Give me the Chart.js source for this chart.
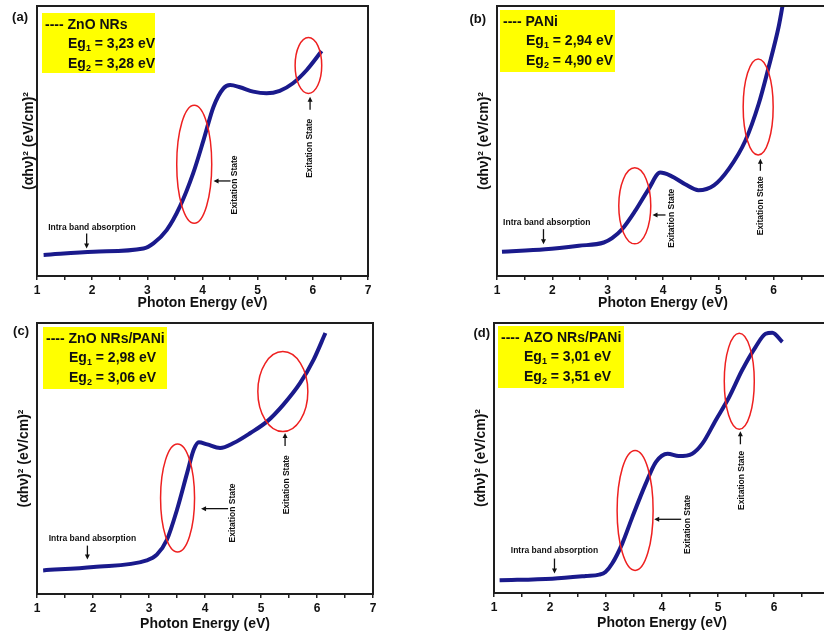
<!DOCTYPE html>
<html>
<head>
<meta charset="utf-8">
<script src="https://cdn.jsdelivr.net/npm/chart.js@4"></script>
<style>
  html, body { margin: 0; padding: 0; background: #fff; overflow: hidden; }
  #fig { position: relative; width: 824px; height: 635px; overflow: hidden; }
  #fig canvas { position: absolute; }
</style>
</head>
<body>
<div id="fig">
  <canvas id="pA" width="412" height="312" style="left:0;top:0"></canvas>
  <canvas id="pB" width="430" height="312" style="left:412px;top:0"></canvas>
  <canvas id="pC" width="412" height="323" style="left:0;top:312px"></canvas>
  <canvas id="pD" width="430" height="323" style="left:412px;top:312px"></canvas>
</div>
<script>
'use strict';

// ── Data (photon energy in eV, (αhν)² in arbitrary units) ───────────
const energyA = [1.12, 2.03, 2.93, 3.11, 3.35, 3.59, 3.83, 4.02, 4.20, 4.38, 4.50, 4.68, 4.92, 5.16, 5.40, 5.64, 5.89, 6.16];
const absA    = [7.8, 9.0, 10.2, 12.1, 17.0, 25.7, 38.0, 50.4, 62.7, 69.5, 70.7, 69.9, 68.3, 67.7, 68.6, 71.4, 76.3, 83.3];

const energyB = [1.09, 1.87, 2.48, 2.93, 3.08, 3.26, 3.50, 3.74, 3.95, 4.15, 4.40, 4.64, 4.92, 5.19, 5.49, 5.73, 5.91, 6.09, 6.16];
const absB    = [9.0, 9.9, 11.2, 12.4, 14.0, 17.3, 24.2, 32.2, 38.3, 37.0, 34.0, 31.8, 33.6, 39.7, 50.2, 63.8, 77.4, 92.3, 100];

const energyC = [1.11, 2.01, 2.96, 3.14, 3.32, 3.50, 3.68, 3.80, 3.89, 4.04, 4.27, 4.51, 4.81, 5.11, 5.40, 5.70, 5.94, 6.15];
const absC    = [8.7, 10.0, 12.4, 14.5, 20.0, 31.1, 44.6, 53.3, 56.0, 55.2, 53.9, 55.7, 59.4, 63.7, 69.9, 77.9, 86.5, 96.3];

const energyD = [1.10, 2.04, 2.64, 2.88, 2.99, 3.11, 3.29, 3.47, 3.71, 3.89, 4.10, 4.30, 4.54, 4.72, 4.96, 5.20, 5.43, 5.67, 5.85, 5.97, 6.15];
const absD    = [4.7, 5.3, 6.3, 6.8, 7.8, 10.9, 18.3, 28.1, 40.5, 48.5, 51.6, 50.7, 51.6, 55.3, 64.0, 72.6, 82.5, 91.1, 96.0, 96.4, 93.0];

const sampleNames = ['ZnO NRs', 'PANi', 'ZnO NRs/PANi', 'AZO NRs/PANi'];
const eg1Values   = ['3,23', '2,94', '2,98', '3,01'];
const eg2Values   = ['3,28', '4,90', '3,06', '3,51'];
const panelTags   = ['(a)', '(b)', '(c)', '(d)'];

const FONT = "'Liberation Sans', Arial, sans-serif";
const CURVE = '#1a1a8c';
const RED = '#ee2020';

// ── Annotation plugin: frame, legend box, ellipses, arrows ──────────
const notesPlugin = {
  id: 'notes',
  afterDatasetsDraw(chart, args, o) {
    const { ctx, chartArea: a, scales: { x, y } } = chart;
    const px = v => x.getPixelForValue(v);
    const py = v => y.getPixelForValue(v);
    ctx.save();

    // frame
    ctx.strokeStyle = '#1e1e1e';
    ctx.lineWidth = 2;
    ctx.strokeRect(a.left, a.top, a.right - a.left, a.bottom - a.top);

    // panel tag
    ctx.fillStyle = '#111';
    ctx.font = `bold 13px ${FONT}`;
    ctx.textAlign = 'right';
    ctx.textBaseline = 'alphabetic';
    ctx.fillText(o.tag, a.left + o.tagDx, a.top + o.tagDy);

    // yellow box
    const bx = a.left + o.box[0], by = a.top + o.box[1];
    ctx.fillStyle = '#ffff00';
    ctx.fillRect(bx, by, o.box[2], o.box[3]);
    ctx.fillStyle = '#111';
    ctx.textAlign = 'left';
    ctx.font = `bold 14px ${FONT}`;
    ctx.fillText('---- ' + o.name, bx + 3, by + 16);
    [[ '1', o.eg1, 35 ], [ '2', o.eg2, 55 ]].forEach(([sub, val, dy]) => {
      let tx = bx + 26;
      ctx.font = `bold 14px ${FONT}`;
      ctx.fillText('Eg', tx, by + dy);
      tx += ctx.measureText('Eg').width;
      ctx.font = `bold 9px ${FONT}`;
      ctx.fillText(sub, tx, by + dy + 3);
      tx += ctx.measureText(sub).width;
      ctx.font = `bold 14px ${FONT}`;
      ctx.fillText(' = ' + val + ' eV', tx, by + dy);
    });

    // ellipses
    ctx.strokeStyle = RED;
    ctx.lineWidth = 1.5;
    o.ellipses.forEach(e => {
      ctx.beginPath();
      ctx.ellipse(px(e.x), py(e.y), e.rx, e.ry, 0, 0, Math.PI * 2);
      ctx.stroke();
    });

    // arrows
    ctx.strokeStyle = '#111';
    ctx.fillStyle = '#111';
    ctx.lineWidth = 1.3;
    o.arrows.forEach(ar => {
      const tx = px(ar.x), ty = py(ar.y);
      const d = { left: [1, 0], up: [0, 1], down: [0, -1] }[ar.dir];
      ctx.beginPath();
      ctx.moveTo(tx + d[0] * ar.len, ty + d[1] * ar.len);
      ctx.lineTo(tx + d[0] * 3, ty + d[1] * 3);
      ctx.stroke();
      ctx.beginPath();
      ctx.moveTo(tx, ty);
      ctx.lineTo(tx + d[0] * 5 + d[1] * 2.5, ty + d[1] * 5 + d[0] * 2.5);
      ctx.lineTo(tx + d[0] * 5 - d[1] * 2.5, ty + d[1] * 5 - d[0] * 2.5);
      ctx.closePath();
      ctx.fill();
    });

    // texts
    ctx.font = `bold 8.5px ${FONT}`;
    ctx.textAlign = 'center';
    ctx.textBaseline = 'middle';
    ctx.fillText('Intra band absorption', px(o.intra.x), py(o.intra.y));
    o.states.forEach(s => {
      ctx.save();
      ctx.translate(px(s.x), py(s.y));
      ctx.rotate(-Math.PI / 2);
      ctx.fillText('Exitation State', 0, 0);
      ctx.restore();
    });

    ctx.restore();
  }
};

function buildPanel(id, energy, abs, lay, notes) {
  new Chart(document.getElementById(id), {
    type: 'line',
    data: {
      datasets: [{
        data: energy.map((e, i) => ({ x: e, y: abs[i] })),
        borderColor: CURVE,
        borderWidth: 4,
        pointRadius: 0,
        cubicInterpolationMode: 'monotone',
        fill: false
      }]
    },
    options: {
      responsive: false,
      animation: false,
      events: [],
      layout: { padding: lay.pad },
      plugins: { legend: { display: false }, tooltip: { enabled: false }, notes },
      scales: {
        x: {
          type: 'linear', min: 1, max: 7,
          afterFit: s => { s.height = lay.xh; },
          border: { display: false },
          grid: { drawOnChartArea: false, drawTicks: true, tickLength: 4, color: '#222', lineWidth: 1.5 },
          ticks: {
            stepSize: 0.5, autoSkip: false, maxRotation: 0, padding: 3,
            color: '#111', font: { family: FONT, size: 12, weight: 'bold' },
            callback: v => Number.isInteger(v) ? String(v) : ''
          },
          title: {
            display: true, text: 'Photon Energy (eV)', padding: 0,
            color: '#111', font: { family: FONT, size: 14, weight: 'bold' }
          }
        },
        y: {
          min: 0, max: 100,
          afterFit: s => { s.width = lay.yw; },
          border: { display: false },
          grid: { display: false },
          ticks: { display: false },
          title: {
            display: true, text: '(αhν)² (eV/cm)²', padding: 0,
            color: '#111', font: { family: FONT, size: 14, weight: 'bold' }
          }
        }
      }
    },
    plugins: [notesPlugin]
  });
}

buildPanel('pA', energyA, absA,
  { pad: { left: 21, right: 44, top: 6, bottom: 0 }, xh: 36, yw: 16 },
  { tag: panelTags[0], tagDx: -9, tagDy: 15, name: sampleNames[0], eg1: eg1Values[0], eg2: eg2Values[0],
    box: [5, 7, 113, 60],
    ellipses: [{ x: 3.85, y: 41.4, rx: 17.5, ry: 59 }, { x: 5.92, y: 78.0, rx: 13.3, ry: 28 }],
    arrows: [{ x: 4.20, y: 35.2, dir: 'left', len: 17 }, { x: 5.95, y: 66.4, dir: 'up', len: 13 }, { x: 1.90, y: 10.2, dir: 'down', len: 15 }],
    states: [{ x: 4.59, y: 33.7 }, { x: 5.95, y: 47.3 }],
    intra: { x: 1.995, y: 18.0 } });

buildPanel('pB', energyB, absB,
  { pad: { left: 64, right: 13, top: 6, bottom: 0 }, xh: 36, yw: 21 },
  { tag: panelTags[1], tagDx: -11, tagDy: 17, name: sampleNames[1], eg1: eg1Values[1], eg2: eg2Values[1],
    box: [3, 4, 115, 62],
    ellipses: [{ x: 3.49, y: 26.0, rx: 16, ry: 38 }, { x: 5.72, y: 62.6, rx: 15, ry: 48 }],
    arrows: [{ x: 3.81, y: 22.6, dir: 'left', len: 13 }, { x: 5.76, y: 43.4, dir: 'up', len: 12 }, { x: 1.84, y: 11.8, dir: 'down', len: 15 }],
    states: [{ x: 4.15, y: 21.4 }, { x: 5.76, y: 26.0 }],
    intra: { x: 1.90, y: 19.6 } });

buildPanel('pC', energyC, absC,
  { pad: { left: 16, right: 39, top: 11, bottom: 2 }, xh: 39, yw: 21 },
  { tag: panelTags[2], tagDx: -8, tagDy: 12, name: sampleNames[2], eg1: eg1Values[2], eg2: eg2Values[2],
    box: [6, 4, 124, 62],
    ellipses: [{ x: 3.51, y: 35.4, rx: 17, ry: 54 }, { x: 5.39, y: 74.7, rx: 25, ry: 40 }],
    arrows: [{ x: 3.93, y: 31.5, dir: 'left', len: 27 }, { x: 5.43, y: 59.4, dir: 'up', len: 13 }, { x: 1.90, y: 12.7, dir: 'down', len: 14 }],
    states: [{ x: 4.49, y: 29.9 }, { x: 5.45, y: 40.3 }],
    intra: { x: 1.99, y: 20.3 } });

buildPanel('pD', energyD, absD,
  { pad: { left: 61, right: 12, top: 11, bottom: 3 }, xh: 39, yw: 21 },
  { tag: panelTags[3], tagDx: -4, tagDy: 14, name: sampleNames[3], eg1: eg1Values[3], eg2: eg2Values[3],
    box: [4, 3, 126, 62],
    ellipses: [{ x: 3.52, y: 30.6, rx: 18, ry: 60 }, { x: 5.38, y: 78.4, rx: 15, ry: 48 }],
    arrows: [{ x: 3.86, y: 27.3, dir: 'left', len: 27 }, { x: 5.40, y: 59.9, dir: 'up', len: 13 }, { x: 2.08, y: 7.2, dir: 'down', len: 15 }],
    states: [{ x: 4.46, y: 25.4 }, { x: 5.42, y: 41.7 }],
    intra: { x: 2.08, y: 15.8 } });
</script>
</body>
</html>
